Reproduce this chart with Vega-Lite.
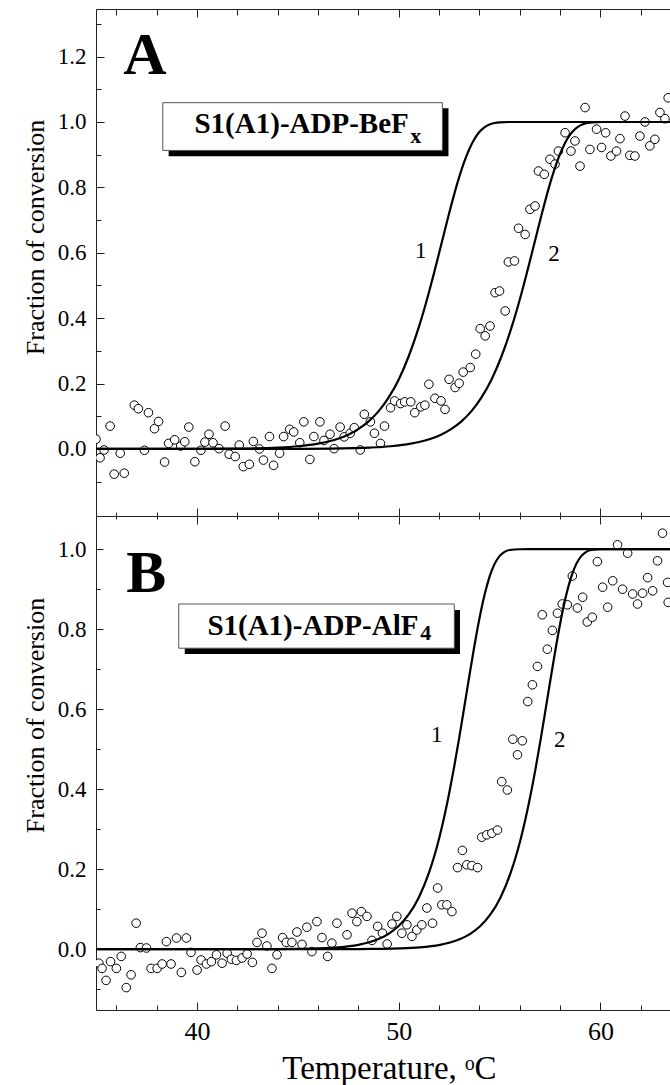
{
  "$schema": "https://vega.github.io/schema/vega-lite/v6.json",
  "width": 574,
  "height": 1001,
  "autosize": {"type": "none"},
  "padding": {"left": 96, "top": 9, "right": 0, "bottom": 75},
  "background": "white",
  "config": {
    "view": {"stroke": null},
    "font": "Liberation Serif",
    "text": {"font": "Liberation Serif", "color": "black"},
    "axis": {
      "grid": false,
      "domainColor": "#222",
      "tickColor": "#222",
      "domainWidth": 1,
      "tickWidth": 1,
      "labelColor": "black",
      "titleColor": "black",
      "labelFont": "Liberation Serif",
      "titleFont": "Liberation Serif",
      "titleFontWeight": "normal",
      "labelFlush": false,
      "labelOverlap": false
    }
  },
  "datasets": {
    "ptsA": [
      {"T":35.0,"v":0.03},{"T":35.2,"v":-0.027},{"T":35.4,"v":-0.003},{"T":35.7,"v":0.07},{"T":35.9,"v":-0.077},
      {"T":36.2,"v":-0.013},{"T":36.4,"v":-0.074},{"T":36.9,"v":0.134},{"T":37.1,"v":0.123},{"T":37.6,"v":0.111},
      {"T":37.4,"v":-0.004},{"T":37.9,"v":0.062},{"T":38.1,"v":0.084},{"T":38.4,"v":-0.04},{"T":38.6,"v":0.017},
      {"T":38.9,"v":0.028},{"T":39.2,"v":0.009},{"T":39.4,"v":0.022},{"T":39.6,"v":0.067},{"T":39.9,"v":-0.039},
      {"T":40.2,"v":-0.004},{"T":40.4,"v":0.021},{"T":40.6,"v":0.045},{"T":40.8,"v":0.019},{"T":41.1,"v":0.001},
      {"T":41.4,"v":0.07},{"T":41.6,"v":-0.016},{"T":41.9,"v":-0.023},{"T":42.1,"v":0.012},{"T":42.3,"v":-0.054},
      {"T":42.6,"v":-0.047},{"T":42.8,"v":0.023},{"T":43.1,"v":0.0},{"T":43.3,"v":-0.034},{"T":43.6,"v":0.038},
      {"T":43.8,"v":-0.05},{"T":44.1,"v":-0.013},{"T":44.3,"v":0.038},{"T":44.6,"v":0.06},{"T":44.8,"v":0.052},
      {"T":45.1,"v":0.019},{"T":45.3,"v":0.083},{"T":45.6,"v":-0.032},{"T":45.8,"v":0.038},{"T":46.1,"v":0.083},
      {"T":46.3,"v":0.026},{"T":46.6,"v":0.045},{"T":46.8,"v":0.001},{"T":47.1,"v":0.067},{"T":47.3,"v":0.037},
      {"T":47.6,"v":0.048},{"T":47.8,"v":0.065},{"T":48.1,"v":-0.003},{"T":48.3,"v":0.106},{"T":48.6,"v":0.083},
      {"T":48.8,"v":0.048},{"T":49.1,"v":0.017},{"T":49.3,"v":0.07},{"T":49.6,"v":0.126},{"T":49.8,"v":0.147},
      {"T":50.1,"v":0.139},{"T":50.3,"v":0.144},{"T":50.6,"v":0.144},{"T":50.8,"v":0.111},{"T":51.1,"v":0.129},
      {"T":51.3,"v":0.134},{"T":51.5,"v":0.198},{"T":51.8,"v":0.155},{"T":52.1,"v":0.147},{"T":52.3,"v":0.121},
      {"T":52.5,"v":0.213},{"T":52.8,"v":0.188},{"T":53.0,"v":0.201},{"T":53.2,"v":0.235},{"T":53.55,"v":0.249},
      {"T":53.82,"v":0.29},{"T":54.04,"v":0.368},{"T":54.29,"v":0.346},{"T":54.53,"v":0.376},{"T":54.78,"v":0.478},
      {"T":55.0,"v":0.483},{"T":55.28,"v":0.422},{"T":55.44,"v":0.572},{"T":55.74,"v":0.575},{"T":55.94,"v":0.675},
      {"T":56.27,"v":0.656},{"T":56.51,"v":0.733},{"T":56.76,"v":0.743},{"T":56.93,"v":0.85},{"T":57.22,"v":0.84},
      {"T":57.5,"v":0.886},{"T":57.75,"v":0.871},{"T":57.92,"v":0.911},{"T":58.25,"v":0.967},{"T":58.54,"v":0.911},
      {"T":58.74,"v":0.942},{"T":58.99,"v":0.865},{"T":59.24,"v":1.044},{"T":59.48,"v":0.916},{"T":59.81,"v":0.978},
      {"T":60.06,"v":0.922},{"T":60.26,"v":0.967},{"T":60.52,"v":0.896},{"T":60.8,"v":0.911},{"T":60.97,"v":0.949},
      {"T":61.22,"v":1.018},{"T":61.46,"v":0.898},{"T":61.71,"v":0.896},{"T":61.96,"v":0.957},{"T":62.21,"v":1.0},
      {"T":62.45,"v":0.927},{"T":62.7,"v":0.947},{"T":62.95,"v":1.029},{"T":63.2,"v":1.01},{"T":63.36,"v":1.074}
    ],
    "ptsB": [
      {"T":35.14,"v":-0.035},{"T":35.3,"v":-0.048},{"T":35.5,"v":-0.078},{"T":35.72,"v":-0.031},{"T":36.01,"v":-0.048},
      {"T":36.25,"v":-0.018},{"T":36.5,"v":-0.096},{"T":36.74,"v":-0.064},{"T":36.99,"v":0.065},{"T":37.2,"v":0.004},
      {"T":37.5,"v":0.003},{"T":37.73,"v":-0.048},{"T":38.03,"v":-0.048},{"T":38.28,"v":-0.037},{"T":38.49,"v":0.019},
      {"T":38.72,"v":-0.037},{"T":38.99,"v":0.028},{"T":39.23,"v":-0.058},{"T":39.48,"v":0.028},{"T":39.71,"v":-0.008},
      {"T":40.01,"v":-0.052},{"T":40.21,"v":-0.027},{"T":40.47,"v":-0.037},{"T":40.72,"v":-0.031},{"T":40.97,"v":-0.014},
      {"T":41.25,"v":-0.035},{"T":41.5,"v":-0.01},{"T":41.71,"v":-0.025},{"T":41.96,"v":-0.028},{"T":42.24,"v":-0.022},
      {"T":42.49,"v":-0.012},{"T":42.75,"v":-0.033},{"T":42.98,"v":0.017},{"T":43.23,"v":0.04},{"T":43.47,"v":0.008},
      {"T":43.72,"v":-0.048},{"T":43.97,"v":-0.014},{"T":44.25,"v":0.029},{"T":44.43,"v":0.017},{"T":44.71,"v":0.017},
      {"T":44.96,"v":0.043},{"T":45.21,"v":0.012},{"T":45.45,"v":0.055},{"T":45.7,"v":-0.006},{"T":45.95,"v":0.069},
      {"T":46.2,"v":0.029},{"T":46.48,"v":-0.018},{"T":46.69,"v":0.015},{"T":46.94,"v":0.065},{"T":47.44,"v":0.036},
      {"T":47.69,"v":0.09},{"T":47.93,"v":0.069},{"T":48.15,"v":0.094},{"T":48.43,"v":0.082},{"T":48.68,"v":0.022},
      {"T":48.96,"v":0.057},{"T":49.2,"v":0.04},{"T":49.43,"v":0.013},{"T":49.67,"v":0.063},{"T":49.91,"v":0.082},
      {"T":50.16,"v":0.04},{"T":50.41,"v":0.061},{"T":50.66,"v":0.032},{"T":50.9,"v":0.048},{"T":51.15,"v":0.061},
      {"T":51.4,"v":0.103},{"T":51.68,"v":0.065},{"T":51.93,"v":0.153},{"T":52.14,"v":0.111},{"T":52.39,"v":0.111},
      {"T":52.64,"v":0.094},{"T":52.92,"v":0.204},{"T":53.16,"v":0.247},{"T":53.38,"v":0.211},{"T":53.63,"v":0.209},
      {"T":53.91,"v":0.204},{"T":54.12,"v":0.28},{"T":54.37,"v":0.286},{"T":54.62,"v":0.29},{"T":54.9,"v":0.298},
      {"T":55.11,"v":0.419},{"T":55.39,"v":0.398},{"T":55.66,"v":0.525},{"T":55.89,"v":0.486},{"T":56.13,"v":0.521},
      {"T":56.4,"v":0.619},{"T":56.63,"v":0.661},{"T":56.88,"v":0.707},{"T":57.12,"v":0.836},{"T":57.37,"v":0.75},
      {"T":57.62,"v":0.797},{"T":57.87,"v":0.84},{"T":58.11,"v":0.863},{"T":58.36,"v":0.861},{"T":58.61,"v":0.933},
      {"T":58.86,"v":0.853},{"T":59.12,"v":0.88},{"T":59.35,"v":0.818},{"T":59.6,"v":0.83},{"T":59.85,"v":0.969},
      {"T":60.11,"v":0.905},{"T":60.36,"v":0.855},{"T":60.61,"v":0.921},{"T":60.85,"v":1.011},{"T":61.1,"v":0.9},
      {"T":61.35,"v":0.99},{"T":61.6,"v":0.888},{"T":61.84,"v":0.863},{"T":62.09,"v":0.89},{"T":62.34,"v":0.929},
      {"T":62.59,"v":0.896},{"T":62.83,"v":0.971},{"T":63.08,"v":1.04},{"T":63.33,"v":0.917},{"T":63.36,"v":0.867}
    ],
    "fitA": [
      {"curve":"1","T":35,"v":0},{"curve":"1","T":40,"v":0.0003},{"curve":"1","T":42,"v":0.0011},{"curve":"1","T":44,"v":0.0043},
      {"curve":"1","T":45,"v":0.0084},{"curve":"1","T":46,"v":0.0163},{"curve":"1","T":47,"v":0.0315},{"curve":"1","T":47.5,"v":0.0437},
      {"curve":"1","T":48,"v":0.0606},{"curve":"1","T":48.5,"v":0.0836},{"curve":"1","T":49,"v":0.115},{"curve":"1","T":49.5,"v":0.157},
      {"curve":"1","T":50,"v":0.212},{"curve":"1","T":50.5,"v":0.2836},{"curve":"1","T":51,"v":0.3725},{"curve":"1","T":51.25,"v":0.4236},
      {"curve":"1","T":51.5,"v":0.4787},{"curve":"1","T":51.75,"v":0.537},{"curve":"1","T":52,"v":0.5977},{"curve":"1","T":52.25,"v":0.6592},
      {"curve":"1","T":52.5,"v":0.7199},{"curve":"1","T":52.75,"v":0.7779},{"curve":"1","T":53,"v":0.8312},{"curve":"1","T":53.25,"v":0.878},
      {"curve":"1","T":53.5,"v":0.9168},{"curve":"1","T":53.75,"v":0.9471},{"curve":"1","T":54,"v":0.9691},{"curve":"1","T":54.25,"v":0.9836},
      {"curve":"1","T":54.5,"v":0.9922},{"curve":"1","T":54.75,"v":0.9968},{"curve":"1","T":55,"v":0.9989},{"curve":"1","T":55.5,"v":0.9999},
      {"curve":"1","T":56,"v":1.0},{"curve":"1","T":63.45,"v":1.0},
      {"curve":"2","T":35,"v":0},{"curve":"2","T":44.6,"v":0.0003},{"curve":"2","T":46.6,"v":0.0011},{"curve":"2","T":48.6,"v":0.0043},
      {"curve":"2","T":49.6,"v":0.0084},{"curve":"2","T":50.6,"v":0.0163},{"curve":"2","T":51.6,"v":0.0315},{"curve":"2","T":52.1,"v":0.0437},
      {"curve":"2","T":52.6,"v":0.0606},{"curve":"2","T":53.1,"v":0.0836},{"curve":"2","T":53.6,"v":0.115},{"curve":"2","T":54.1,"v":0.157},
      {"curve":"2","T":54.6,"v":0.212},{"curve":"2","T":55.1,"v":0.2836},{"curve":"2","T":55.6,"v":0.3725},{"curve":"2","T":55.85,"v":0.4236},
      {"curve":"2","T":56.1,"v":0.4787},{"curve":"2","T":56.35,"v":0.537},{"curve":"2","T":56.6,"v":0.5977},{"curve":"2","T":56.85,"v":0.6592},
      {"curve":"2","T":57.1,"v":0.7199},{"curve":"2","T":57.35,"v":0.7779},{"curve":"2","T":57.6,"v":0.8312},{"curve":"2","T":57.85,"v":0.878},
      {"curve":"2","T":58.1,"v":0.9168},{"curve":"2","T":58.35,"v":0.9471},{"curve":"2","T":58.6,"v":0.9691},{"curve":"2","T":58.85,"v":0.9836},
      {"curve":"2","T":59.1,"v":0.9922},{"curve":"2","T":59.35,"v":0.9968},{"curve":"2","T":59.6,"v":0.9989},{"curve":"2","T":60.1,"v":0.9999},
      {"curve":"2","T":60.6,"v":1.0},{"curve":"2","T":63.45,"v":1.0}
    ],
    "fitB": [
      {"curve":"1","T":35,"v":0},{"curve":"1","T":42,"v":0.0001},{"curve":"1","T":44,"v":0.0004},{"curve":"1","T":45,"v":0.0009},
      {"curve":"1","T":46,"v":0.002},{"curve":"1","T":47,"v":0.0047},{"curve":"1","T":48,"v":0.011},{"curve":"1","T":48.5,"v":0.0166},
      {"curve":"1","T":49,"v":0.0253},{"curve":"1","T":49.5,"v":0.0383},{"curve":"1","T":50,"v":0.0578},{"curve":"1","T":50.5,"v":0.0868},
      {"curve":"1","T":51,"v":0.1294},{"curve":"1","T":51.5,"v":0.1906},{"curve":"1","T":51.75,"v":0.2298},{"curve":"1","T":52,"v":0.2756},
      {"curve":"1","T":52.25,"v":0.3285},{"curve":"1","T":52.5,"v":0.3885},{"curve":"1","T":52.75,"v":0.4553},{"curve":"1","T":53,"v":0.5278},
      {"curve":"1","T":53.25,"v":0.6042},{"curve":"1","T":53.5,"v":0.6817},{"curve":"1","T":53.75,"v":0.7568},{"curve":"1","T":54,"v":0.8256},
      {"curve":"1","T":54.25,"v":0.8843},{"curve":"1","T":54.5,"v":0.9303},{"curve":"1","T":54.75,"v":0.9627},{"curve":"1","T":55,"v":0.9828},
      {"curve":"1","T":55.25,"v":0.9934},{"curve":"1","T":55.5,"v":0.998},{"curve":"1","T":56,"v":0.9999},{"curve":"1","T":56.5,"v":1.0},
      {"curve":"1","T":63.45,"v":1.0},
      {"curve":"2","T":35,"v":0},{"curve":"2","T":46.05,"v":0.0001},{"curve":"2","T":48.05,"v":0.0004},{"curve":"2","T":49.05,"v":0.0009},
      {"curve":"2","T":50.05,"v":0.002},{"curve":"2","T":51.05,"v":0.0047},{"curve":"2","T":52.05,"v":0.011},{"curve":"2","T":52.55,"v":0.0166},
      {"curve":"2","T":53.05,"v":0.0253},{"curve":"2","T":53.55,"v":0.0383},{"curve":"2","T":54.05,"v":0.0578},{"curve":"2","T":54.55,"v":0.0868},
      {"curve":"2","T":55.05,"v":0.1294},{"curve":"2","T":55.55,"v":0.1906},{"curve":"2","T":55.8,"v":0.2298},{"curve":"2","T":56.05,"v":0.2756},
      {"curve":"2","T":56.3,"v":0.3285},{"curve":"2","T":56.55,"v":0.3885},{"curve":"2","T":56.8,"v":0.4553},{"curve":"2","T":57.05,"v":0.5278},
      {"curve":"2","T":57.3,"v":0.6042},{"curve":"2","T":57.55,"v":0.6817},{"curve":"2","T":57.8,"v":0.7568},{"curve":"2","T":58.05,"v":0.8256},
      {"curve":"2","T":58.3,"v":0.8843},{"curve":"2","T":58.55,"v":0.9303},{"curve":"2","T":58.8,"v":0.9627},{"curve":"2","T":59.05,"v":0.9828},
      {"curve":"2","T":59.3,"v":0.9934},{"curve":"2","T":59.55,"v":0.998},{"curve":"2","T":60.05,"v":0.9999},{"curve":"2","T":60.55,"v":1.0},
      {"curve":"2","T":63.45,"v":1.0}
    ]
  },
  "layer": [
    {
      "encoding": {
        "x": {
          "field": "T", "type": "quantitative",
          "scale": {"domain": [35, 63.45], "nice": false, "zero": false},
          "axis": {
            "orient": "top",
            "values": [36,38,40,42,44,46,48,50,52,54,56,58,60,62],
            "labels": false, "title": null,
            "tickSize": {"condition": {"test": "datum.value % 10 === 0", "value": -8}, "value": -6}
          }
        },
        "y": {
          "field": "v", "type": "quantitative",
          "scale": {"domain": [-0.205, 1.3455], "range": [507, 0], "nice": false, "zero": false},
          "axis": {
            "orient": "left",
            "values": [-0.1,0,0.1,0.2,0.3,0.4,0.5,0.6,0.7,0.8,0.9,1,1.1,1.2,1.3],
            "labelExpr": "abs(round(datum.value*10)) % 2 === 0 ? format(datum.value, '.1f') : ''",
            "tickSize": {"condition": {"test": "abs(round(datum.value*10)) % 2 === 0", "value": -8}, "value": -5},
            "labelFontSize": 23, "labelPadding": 18,
            "title": "Fraction of conversion", "titleFontSize": 26,
            "titleAngle": 270, "titleX": -53, "titleY": 228,
            "titleAlign": "center", "titleBaseline": "alphabetic"
          }
        }
      },
      "layer": [
        {
          "data": {"name": "ptsA"},
          "mark": {"type": "circle", "size": 74, "fill": "white", "stroke": "black", "strokeWidth": 1, "opacity": 1, "clip": true}
        },
        {
          "data": {"name": "fitA"},
          "mark": {"type": "line", "stroke": "black", "strokeWidth": 2.2, "interpolate": "monotone", "clip": true},
          "encoding": {"detail": {"field": "curve"}}
        },
        {
          "data": {"values": [{"T": 51.1, "v": 0.585, "label": "1"}, {"T": 57.7, "v": 0.575, "label": "2"}]},
          "mark": {"type": "text", "font": "Liberation Serif", "fontSize": 23, "align": "center", "baseline": "alphabetic", "color": "black"},
          "encoding": {"text": {"field": "label"}}
        },
        {
          "data": {"values": [{"T": 38.6, "T2": 52.47, "v": 0.895, "v2": 1.042}]},
          "mark": {"type": "rect", "fill": "black"},
          "encoding": {"x2": {"field": "T2"}, "y2": {"field": "v2"}}
        },
        {
          "data": {"values": [{"T": 38.31, "T2": 52.17, "v": 0.913, "v2": 1.059}]},
          "mark": {"type": "rect", "fill": "white", "stroke": "#555", "strokeWidth": 1},
          "encoding": {"x2": {"field": "T2"}, "y2": {"field": "v2"}}
        },
        {
          "data": {"values": [{"T": 50.5, "v": 0.9676, "label": "S1(A1)-ADP-BeF"}]},
          "mark": {"type": "text", "font": "Liberation Serif", "fontSize": 29, "fontWeight": "bold", "align": "right", "baseline": "alphabetic", "color": "black"},
          "encoding": {"text": {"field": "label"}}
        },
        {
          "data": {"values": [{"T": 50.57, "v": 0.937, "label": "x"}]},
          "mark": {"type": "text", "font": "Liberation Serif", "fontSize": 22, "fontWeight": "bold", "align": "left", "baseline": "alphabetic", "color": "black"},
          "encoding": {"text": {"field": "label"}}
        },
        {
          "data": {"values": [{"T": 37.43, "v": 1.146, "label": "A"}]},
          "mark": {"type": "text", "font": "Liberation Serif", "fontSize": 60, "fontWeight": "bold", "align": "center", "baseline": "alphabetic", "color": "black"},
          "encoding": {"text": {"field": "label"}}
        }
      ]
    },
    {
      "encoding": {
        "x": {
          "field": "T", "type": "quantitative",
          "scale": {"domain": [35, 63.45], "nice": false, "zero": false},
          "axis": {
            "orient": "bottom",
            "values": [36,38,40,42,44,46,48,50,52,54,56,58,60,62],
            "labelExpr": "datum.value % 10 === 0 ? datum.label : ''",
            "tickSize": {"condition": {"test": "datum.value % 10 === 0", "value": -8}, "value": -5},
            "labelFontSize": 26, "labelPadding": 16,
            "title": "Temperature, ᵒC", "titleFontSize": 33,
            "titleX": 293, "titleY": 68, "titleAlign": "center", "titleBaseline": "alphabetic"
          }
        },
        "y": {
          "field": "v", "type": "quantitative",
          "scale": {"domain": [-0.152, 1.083], "range": [1001, 507], "nice": false, "zero": false},
          "axis": {
            "orient": "left",
            "values": [-0.1,0,0.1,0.2,0.3,0.4,0.5,0.6,0.7,0.8,0.9,1],
            "labelExpr": "abs(round(datum.value*10)) % 2 === 0 ? format(datum.value, '.1f') : ''",
            "tickSize": {"condition": {"test": "abs(round(datum.value*10)) % 2 === 0", "value": -7}, "value": -4},
            "labelFontSize": 23, "labelPadding": 17,
            "title": "Fraction of conversion", "titleFontSize": 26,
            "titleAngle": 270, "titleX": -53, "titleY": 706,
            "titleAlign": "center", "titleBaseline": "alphabetic"
          }
        }
      },
      "layer": [
        {
          "data": {"name": "ptsB"},
          "mark": {"type": "circle", "size": 74, "fill": "white", "stroke": "black", "strokeWidth": 1, "opacity": 1, "clip": true}
        },
        {
          "data": {"name": "fitB"},
          "mark": {"type": "line", "stroke": "black", "strokeWidth": 2.2, "interpolate": "monotone", "clip": true},
          "encoding": {"detail": {"field": "curve"}}
        },
        {
          "data": {"values": [{"T": 51.89, "v": 0.519, "label": "1"}, {"T": 57.99, "v": 0.5065, "label": "2"}]},
          "mark": {"type": "text", "font": "Liberation Serif", "fontSize": 23, "align": "center", "baseline": "alphabetic", "color": "black"},
          "encoding": {"text": {"field": "label"}}
        },
        {
          "data": {"values": [{"T": 39.4, "T2": 53.04, "v": 0.738, "v2": 0.848}]},
          "mark": {"type": "rect", "fill": "black"},
          "encoding": {"x2": {"field": "T2"}, "y2": {"field": "v2"}}
        },
        {
          "data": {"values": [{"T": 39.1, "T2": 52.76, "v": 0.7525, "v2": 0.863}]},
          "mark": {"type": "rect", "fill": "white", "stroke": "#555", "strokeWidth": 1},
          "encoding": {"x2": {"field": "T2"}, "y2": {"field": "v2"}}
        },
        {
          "data": {"values": [{"T": 50.98, "v": 0.786, "label": "S1(A1)-ADP-AlF"}]},
          "mark": {"type": "text", "font": "Liberation Serif", "fontSize": 29, "fontWeight": "bold", "align": "right", "baseline": "alphabetic", "color": "black"},
          "encoding": {"text": {"field": "label"}}
        },
        {
          "data": {"values": [{"T": 51.07, "v": 0.773, "label": "4"}]},
          "mark": {"type": "text", "font": "Liberation Serif", "fontSize": 22, "fontWeight": "bold", "align": "left", "baseline": "alphabetic", "color": "black"},
          "encoding": {"text": {"field": "label"}}
        },
        {
          "data": {"values": [{"T": 37.49, "v": 0.894, "label": "B"}]},
          "mark": {"type": "text", "font": "Liberation Serif", "fontSize": 60, "fontWeight": "bold", "align": "center", "baseline": "alphabetic", "color": "black"},
          "encoding": {"text": {"field": "label"}}
        }
      ]
    },
    {
      "data": {"name": "ptsA"},
      "mark": {"type": "rule", "opacity": 0},
      "encoding": {
        "x": {
          "field": "T", "type": "quantitative",
          "scale": {"domain": [35, 63.45], "nice": false, "zero": false},
          "axis": {
            "orient": "bottom", "offset": -494,
            "values": [36,38,40,42,44,46,48,50,52,54,56,58,60,62],
            "labels": false, "title": null,
            "tickSize": {"condition": {"test": "datum.value % 10 === 0", "value": -8}, "value": -4}
          }
        }
      }
    },
    {
      "data": {"name": "ptsB"},
      "mark": {"type": "rule", "opacity": 0},
      "encoding": {
        "x": {
          "field": "T", "type": "quantitative",
          "scale": {"domain": [35, 63.45], "nice": false, "zero": false},
          "axis": {
            "orient": "top", "offset": -507,
            "values": [36,38,40,42,44,46,48,50,52,54,56,58,60,62],
            "labels": false, "title": null,
            "tickSize": {"condition": {"test": "datum.value % 10 === 0", "value": -8}, "value": -3}
          }
        }
      }
    }
  ],
  "resolve": {
    "scale": {"x": "independent", "y": "independent"},
    "axis": {"x": "independent", "y": "independent"}
  }
}
